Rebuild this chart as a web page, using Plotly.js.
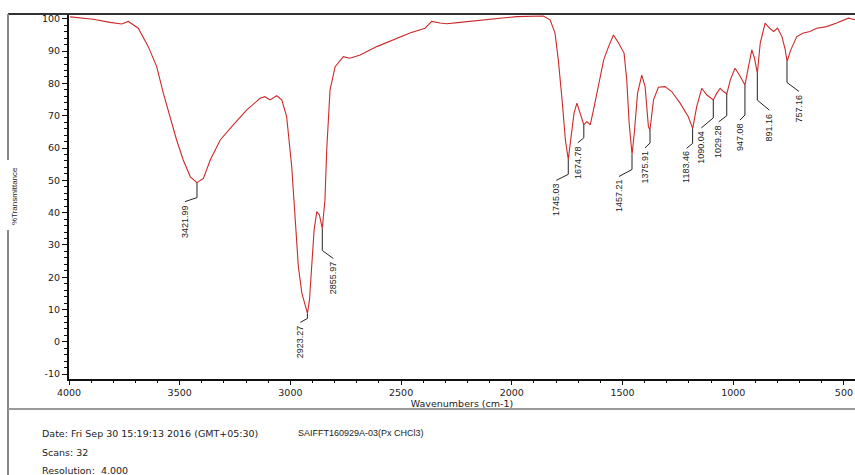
<!DOCTYPE html>
<html>
<head>
<meta charset="utf-8">
<script src="https://cdn.plot.ly/plotly-3.0.1.min.js"></script>
<style>html,body{margin:0;padding:0;background:#fff;}#chart{width:855px;height:475px;}</style>
</head>
<body>
<div id="chart"></div>
<script>
// Spectrum (wavenumber cm-1, %Transmittance)
const wavenumbers = [3995,3890,3815,3762,3732,3687,3642,3604,3574,3544,3514,3484,3452,3422,3393,3362,3317,3258,3197,3137,3115,3092,3062,3039,3017,2994,2979,2964,2948,2923,2914,2903,2893,2881,2869,2856,2844,2836,2821,2798,2761,2731,2685,2610,2535,2460,2392,2362,2324,2294,2234,2129,1978,1858,1827,1805,1790,1773,1758,1745,1733,1719,1706,1690,1675,1661,1646,1631,1608,1585,1563,1541,1518,1503,1493,1481,1470,1457,1447,1432,1413,1398,1383,1376,1360,1338,1308,1278,1240,1203,1183,1165,1142,1120,1090,1074,1059,1044,1029,1013,992,972,947,931,916,904,891,878,856,836,818,800,780,765,757,740,713,683,653,623,578,533,480,450];
const transmittance = [100.6,99.9,98.9,98.4,99.2,97.1,91.4,85.2,77.0,69.7,62.5,56.3,51.1,49.3,50.6,56.3,62.5,67.2,71.8,75.4,75.9,74.9,76.2,74.9,69.7,54.2,38.7,23.2,15.0,8.8,12.9,23.2,34.6,40.3,39.3,35.1,43.9,59.4,78.0,85.2,88.3,87.8,88.8,91.4,93.5,95.6,97.1,99.2,98.7,98.5,98.9,99.7,100.7,100.9,99.7,95.6,87.3,74.9,62.5,56.5,62.5,70.8,73.9,70.8,67.2,68.2,67.2,71.8,80.1,87.3,91.4,95.0,92.5,90.4,89.4,81.1,67.7,58.0,64.6,77.0,82.6,79.0,66.6,65.6,74.9,78.8,79.0,77.5,73.9,69.7,66.1,72.8,78.5,76.5,74.9,77.0,78.5,77.5,76.8,81.1,84.7,82.6,79.5,85.2,90.4,87.8,83.2,92.5,98.7,97.1,96.1,97.1,94.5,90.4,86.8,90.4,94.5,95.6,96.1,97.1,97.6,98.7,100.2,99.7];

// Peak picks
const peakLabels = ["3421.99","2923.27","2855.97","1745.03","1674.78","1457.21","1375.91","1183.46","1090.04","1029.28","947.08","891.16","757.16"];
const peakWn = [3421.99,2923.27,2855.97,1745.03,1674.78,1457.21,1375.91,1183.46,1090.04,1029.28,947.08,891.16,757.16];
const peakT = [49.3,8.8,35.1,56.5,67.2,58.0,65.6,66.1,74.9,76.8,79.5,83.2,86.8];

// Leader-line geometry in pixels: [vertical drop, horizontal shift, extra drop]
const leaderGeom = [[15,-12,4],[5,-7,4],[22,11,8],[15,-12,6],[13,-6,5],[15,-13,7],[13,-5,5],[15,-6,5],[18,-12,10],[22,-8,6],[30,-5,5],[27,12,10],[21,12,9]];

const yTicks = [-10,0,10,20,30,40,50,60,70,80,90,100];
const xTicks = [4000,3500,3000,2500,2000,1500,1000,500];

const W = 855, H = 475;
const M = {l:69, r:0, t:14, b:96};
const xRange = [4000, 450], yRange = [-11.5, 101.5];
const plotW = W - M.l - M.r, plotH = H - M.t - M.b;
const wnPerPx = (xRange[0]-xRange[1]) / plotW;
const tPerPx = (yRange[1]-yRange[0]) / plotH;

const shapes = [];
const annotations = [];
const LIB = '"Liberation Sans", Arial, sans-serif';
const DJV = '"DejaVu Sans", sans-serif';
const txtFont = {family:LIB, size:9, color:'#222'};
const wideFont = {family:DJV, size:9.5, color:'#222'};
const tickFont = {family:DJV, size:9.5, color:'#222'};

peakWn.forEach((wn,i)=>{
  const g = leaderGeom[i];
  const y0 = peakT[i];
  const y1 = y0 - g[0]*tPerPx;
  const x2 = wn - g[1]*wnPerPx;
  const y2 = y1 - g[2]*tPerPx;
  shapes.push({type:'path', xref:'x', yref:'y', path:`M ${wn},${y0} L ${wn},${y1} L ${x2},${y2}`, line:{color:'#222', width:1}});
  annotations.push({x:x2, y:y2, xref:'x', yref:'y', text:peakLabels[i], textangle:-90, showarrow:false, xanchor:'center', yanchor:'top', yshift:-1, font:txtFont});
});

// frame lines (paper coords)
const px2paperX = px => (px - M.l)/plotW;
const py2paperY = py => (H - M.b - py)/plotH;
shapes.push({type:'line', xref:'paper', yref:'paper', x0:px2paperX(8), x1:1, y0:1, y1:1, line:{color:'#333', width:2}});
shapes.push({type:'line', xref:'paper', yref:'paper', x0:px2paperX(8), x1:px2paperX(8), y0:1, y1:py2paperY(160), line:{color:'#888', width:2}});
shapes.push({type:'line', xref:'paper', yref:'paper', x0:px2paperX(8), x1:px2paperX(8), y0:py2paperY(230), y1:py2paperY(476), line:{color:'#888', width:2}});
shapes.push({type:'line', xref:'paper', yref:'paper', x0:px2paperX(8), x1:1, y0:py2paperY(409), y1:py2paperY(409), line:{color:'#999', width:2}});

annotations.push({xref:'paper', yref:'paper', x:px2paperX(15), y:py2paperY(196), text:'%Transmittance', textangle:-90, showarrow:false, xanchor:'center', yanchor:'middle', font:{family:LIB, size:8, color:'#222'}});
annotations.push({xref:'paper', yref:'paper', x:px2paperX(40), y:py2paperY(433), text:'Date: Fri Sep 30 15:19:13 2016 (GMT+05:30)', showarrow:false, xanchor:'left', yanchor:'middle', font:wideFont});
annotations.push({xref:'paper', yref:'paper', x:px2paperX(296), y:py2paperY(433), text:'SAIFFT160929A-03(Px CHCl3)', showarrow:false, xanchor:'left', yanchor:'middle', font:txtFont});
annotations.push({xref:'paper', yref:'paper', x:px2paperX(40), y:py2paperY(452), text:'Scans: 32', showarrow:false, xanchor:'left', yanchor:'middle', font:wideFont});
annotations.push({xref:'paper', yref:'paper', x:px2paperX(40), y:py2paperY(470), text:'Resolution:  4.000', showarrow:false, xanchor:'left', yanchor:'middle', font:wideFont});

const trace = {x:wavenumbers, y:transmittance, type:'scatter', mode:'lines', line:{color:'#cc2a2a', width:1.1}, hoverinfo:'skip'};

const layout = {
  width:W, height:H, margin:M, paper_bgcolor:'#fff', plot_bgcolor:'#fff', showlegend:false,
  font:txtFont,
  xaxis:{range:xRange, tickvals:xTicks, ticktext:xTicks.map(String), showgrid:false, zeroline:false, showline:true, linecolor:'#111', linewidth:2, ticks:'outside', ticklen:4, tickcolor:'#111', tickfont:tickFont, minor:{dtick:100, ticks:'outside', ticklen:2, tickcolor:'#111'}, title:{text:'Wavenumbers (cm-1)', standoff:1, font:{family:DJV,size:9.5,color:'#222'}}},
  yaxis:{range:yRange, tickvals:yTicks, ticktext:yTicks.map(String), showgrid:false, zeroline:false, showline:true, linecolor:'#111', linewidth:2, ticks:'outside', ticklen:5, tickcolor:'#111', tickfont:tickFont, minor:{dtick:2, ticks:'outside', ticklen:3, tickcolor:'#111'}},
  shapes:shapes, annotations:annotations
};
Plotly.newPlot('chart',[trace],layout,{displayModeBar:false, staticPlot:true});
</script>
</body>
</html>
